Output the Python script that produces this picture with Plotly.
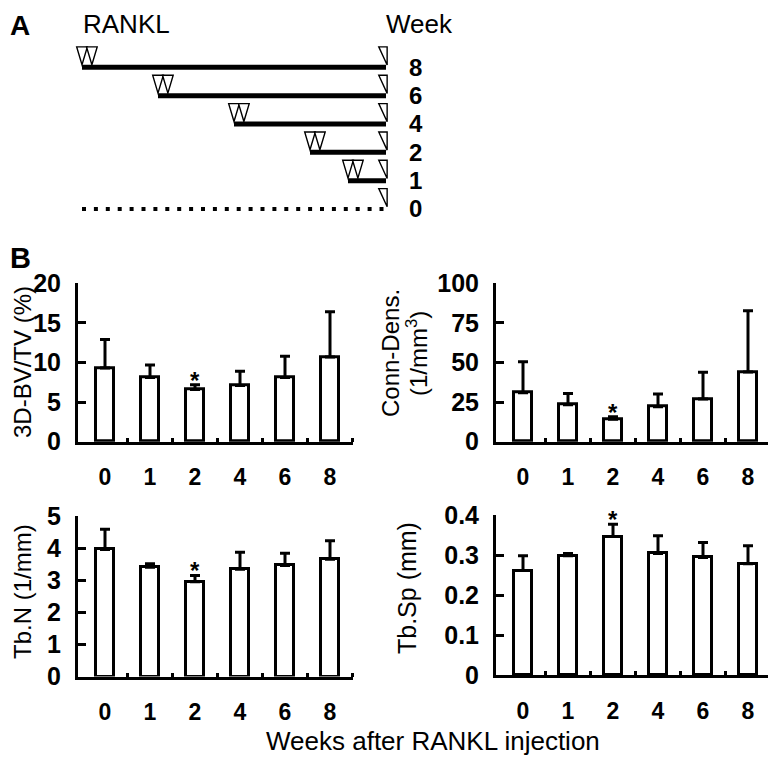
import plotly.graph_objects as go

# ---------------- data ----------------
categories = ["0", "1", "2", "4", "6", "8"]          # weeks after RANKL injection
bvtv_mean = [9.3, 8.1, 6.6, 7.1, 8.1, 10.7]
bvtv_sd = [3.6, 1.6, 0.6, 1.8, 2.7, 5.7]
conn_mean = [30.9, 23.4, 14.1, 22.1, 26.9, 44.0]
conn_sd = [19.6, 7.1, 1.7, 8.0, 16.9, 38.7]
tbn_mean = [3.96, 3.40, 2.95, 3.34, 3.46, 3.65]
tbn_sd = [0.63, 0.11, 0.20, 0.53, 0.38, 0.58]
tbsp_mean = [0.261, 0.298, 0.346, 0.304, 0.294, 0.278]
tbsp_sd = [0.037, 0.006, 0.031, 0.044, 0.037, 0.045]
significant = [False, False, True, False, False, False]

# panel A schedule
schedule_weeks = [8, 6, 4, 2, 1, 0]          # rows (weeks before sacrifice)
injection_offsets = [0.0, 0.26]              # two RANKL injections (weeks)

# page has an 8px body margin: figure is drawn from (8, 8)
OFF = 8
W, H = 768, 752
def px_x(p):
    return (p - OFF) / W
def px_y(p):
    return 1 - (p - OFF) / H

FONT = "Liberation Sans, Arial, Helvetica, sans-serif"

fig = go.Figure()

xpos = list(range(len(categories)))

panels = [
    dict(mean=bvtv_mean, sd=bvtv_sd, ax="", rng=[0, 20], tv=[0, 5, 10, 15, 20],
         tt=["0", "5", "10", "15", "20"], xd=(78, 352.5), yd=(283.3, 441.7)),
    dict(mean=conn_mean, sd=conn_sd, ax="2", rng=[0, 100], tv=[0, 25, 50, 75, 100],
         tt=["0", "25", "50", "75", "100"], xd=(496, 770.5), yd=(283.3, 441.7)),
    dict(mean=tbn_mean, sd=tbn_sd, ax="3", rng=[0, 5], tv=[0, 1, 2, 3, 4, 5],
         tt=["0", "1", "2", "3", "4", "5"], xd=(78, 352.5), yd=(516, 676.5)),
    dict(mean=tbsp_mean, sd=tbsp_sd, ax="4", rng=[0, 0.4], tv=[0, 0.1, 0.2, 0.3, 0.4],
         tt=["0", "0.1", "0.2", "0.3", "0.4"], xd=(496, 770.5), yd=(515, 675)),
]

annotations = []
layout_axes = {}
for p in panels:
    a = p["ax"]
    fig.add_trace(go.Bar(
        x=xpos, y=p["mean"], width=0.42,
        xaxis="x" + a, yaxis="y" + a,
        marker=dict(color="white", line=dict(color="black", width=3)),
        error_y=dict(type="data", array=p["sd"], arrayminus=[0] * len(p["sd"]),
                     symmetric=False, thickness=3, width=5, color="black"),
        showlegend=False, hoverinfo="skip",
    ))
    layout_axes["xaxis" + a] = dict(
        domain=[px_x(p["xd"][0]), px_x(p["xd"][1])],
        anchor="y" + a, range=[-0.6, 5.5],
        showline=True, linecolor="black", linewidth=3,
        showgrid=False, zeroline=False, automargin=False,
        tickmode="array", tickvals=xpos, ticktext=categories,
        ticks="", ticklabelstandoff=13,
        tickfont=dict(family=FONT, size=23, color="black", weight="bold"),
        minor=dict(tickmode="array", tickvals=[i + 0.5 for i in xpos],
                   ticks="inside", ticklen=4, tickwidth=3, tickcolor="black"),
    )
    layout_axes["yaxis" + a] = dict(
        domain=[px_y(p["yd"][1]), px_y(p["yd"][0])],
        anchor="x" + a, range=p["rng"],
        showline=True, linecolor="black", linewidth=3,
        showgrid=False, zeroline=False, automargin=False,
        tickmode="array", tickvals=p["tv"], ticktext=p["tt"],
        ticks="inside", ticklen=8, tickwidth=3, tickcolor="black",
        ticklabelstandoff=9,
        tickfont=dict(family=FONT, size=25, color="black", weight="bold"),
    )
    for i, s in enumerate(significant):
        if s:
            annotations.append(dict(
                x=xpos[i], y=p["mean"][i] + p["sd"][i],
                xref="x" + a, yref="y" + a, text="*", showarrow=False,
                yanchor="bottom", yshift=-11,
                font=dict(family=FONT, size=24, color="black", weight="bold"),
            ))

# ---------------- panel A ----------------
rows = list(range(len(schedule_weeks)))
max_w = max(schedule_weeks)
shapes = []
for k, w in zip(rows, schedule_weeks):
    if w > 0:
        fig.add_trace(go.Scatter(
            x=[-w, 0], y=[k, k], mode="lines", xaxis="x5", yaxis="y5",
            line=dict(color="black", width=5), showlegend=False, hoverinfo="skip"))
        for o in injection_offsets:
            cx = -w + o
            shapes.append(dict(
                type="path", xref="x5", yref="y5",
                path=f"M {cx - 0.14},{k - 0.72} L {cx + 0.14},{k - 0.72} L {cx},{k - 0.09} Z",
                line=dict(color="black", width=1.4), fillcolor="white"))
    else:
        fig.add_trace(go.Scatter(
            x=[-max_w, 0], y=[k, k], mode="lines", xaxis="x5", yaxis="y5",
            line=dict(color="black", width=4, dash="4px,7.9px"),
            showlegend=False, hoverinfo="skip"))
    # sacrifice marker at the end
    shapes.append(dict(
        type="path", xref="x5", yref="y5",
        path=f"M {-0.19},{k - 0.72} L {0.03},{k - 0.72} L {0.03},{k - 0.08} Z",
        line=dict(color="black", width=1.4), fillcolor="white"))

layout_axes["xaxis5"] = dict(domain=[px_x(63), px_x(405)], anchor="y5",
                             range=[-8.5, 0.5], visible=False)
layout_axes["yaxis5"] = dict(domain=[px_y(237.4), px_y(24.8)], anchor="x5",
                             range=[6, -1.5], side="right",
                             showline=False, showgrid=False, zeroline=False,
                             automargin=False,
                             tickmode="array", tickvals=rows,
                             ticktext=[str(w) for w in schedule_weeks],
                             ticks="", ticklabelstandoff=3,
                             tickfont=dict(family=FONT, size=24, color="black",
                                           weight="bold"))

# ---------------- text ----------------
def txt(text, x, y, size, bold=False, angle=0, xanchor="center", yanchor="middle"):
    annotations.append(dict(
        text=text, x=px_x(x), y=px_y(y), xref="paper", yref="paper",
        showarrow=False, textangle=angle, xanchor=xanchor, yanchor=yanchor,
        font=dict(family=FONT, size=size, color="black",
                  weight="bold" if bold else "normal")))

txt("A", 8, 26, 28, bold=True, xanchor="left")
txt("B", 8, 258, 29, bold=True, xanchor="left")
txt("RANKL", 81, 24, 26, xanchor="left")
txt("Week", 384, 24, 26, xanchor="left")
txt("3D-BV/TV (%)", 22, 362, 24, angle=-90)
txt("Conn-Dens.", 391, 353, 24, angle=-90)
txt("(1/mm<sup>3</sup>)", 417, 354, 24, angle=-90)
txt("Tb.N (1/mm)", 22, 592, 24, angle=-90)
txt("Tb.Sp (mm)", 407, 588, 25, angle=-90)
txt("Weeks after RANKL injection", 433, 741, 26)

fig.update_layout(
    width=W, height=H, margin=dict(l=0, r=0, t=0, b=0),
    paper_bgcolor="white", plot_bgcolor="white",
    font=dict(family=FONT, color="black"),
    annotations=annotations, shapes=shapes, bargap=0,
    **layout_axes,
)

fig.write_html("out.html")
